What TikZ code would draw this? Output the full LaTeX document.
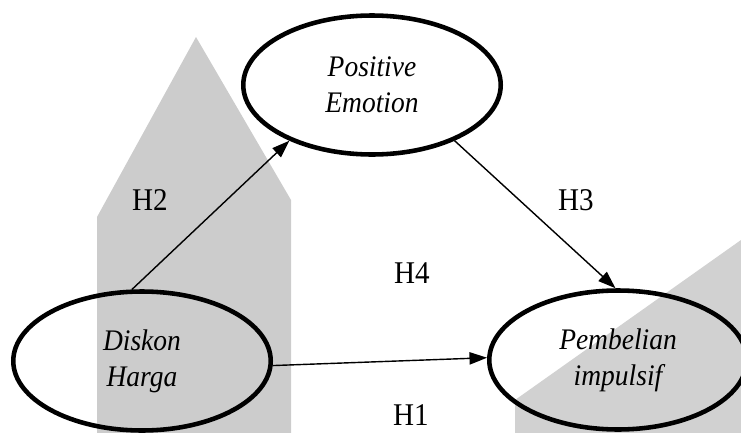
\documentclass[tikz,border=0pt]{standalone}
\usepackage{fontspec}
\setmainfont[FakeStretch=0.92]{Liberation Serif}
\usetikzlibrary{shapes.geometric,arrows.meta}
\begin{document}
\begin{tikzpicture}[x=0.02cm,y=-0.02cm,
    var/.style={draw,ellipse,line width=2.6pt,minimum width=5.15cm,minimum height=2.78cm,
        align=center,inner sep=0pt,font=\fontsize{17}{20.5}\selectfont\itshape},
    hyp/.style={anchor=base,inner sep=0pt,font=\fontsize{18}{20}\selectfont},
    link/.style={line width=0.8pt,-{Triangle[length=10pt,width=7pt]}}]
    \useasboundingbox (0,0) rectangle (741,433);
    % watermark in the back
    \fill[gray!40] (97,433) -- (97,217) -- (196,37) -- (291,200) -- (291,433) -- cycle;
    \fill[gray!36] (515,433) -- (515,400) -- (741,240) -- (741,433) -- cycle;
    % variables
    \node[var] (pe) at (372,85) {Positive\\Emotion};
    \node[var] (dh) at (142,361) {Diskon\\Harga};
    \node[var] (pi) at (618,360) {Pembelian\\impulsif};
    % paths
    \draw[link] (dh.98) -- (pe.214);
    \draw[link] (pe.-34) -- (pi.92);
    \draw[link] (dh.-2) -- (pi.179);
    % hypotheses
    \node[hyp] (h2) at (150,210) {H2};
    \node[hyp] (h3) at (576,210) {H3};
    \node[hyp] (h4) at (412,283) {H4};
    \node[hyp] (h1) at (411,425) {H1};
\end{tikzpicture}
\end{document}
